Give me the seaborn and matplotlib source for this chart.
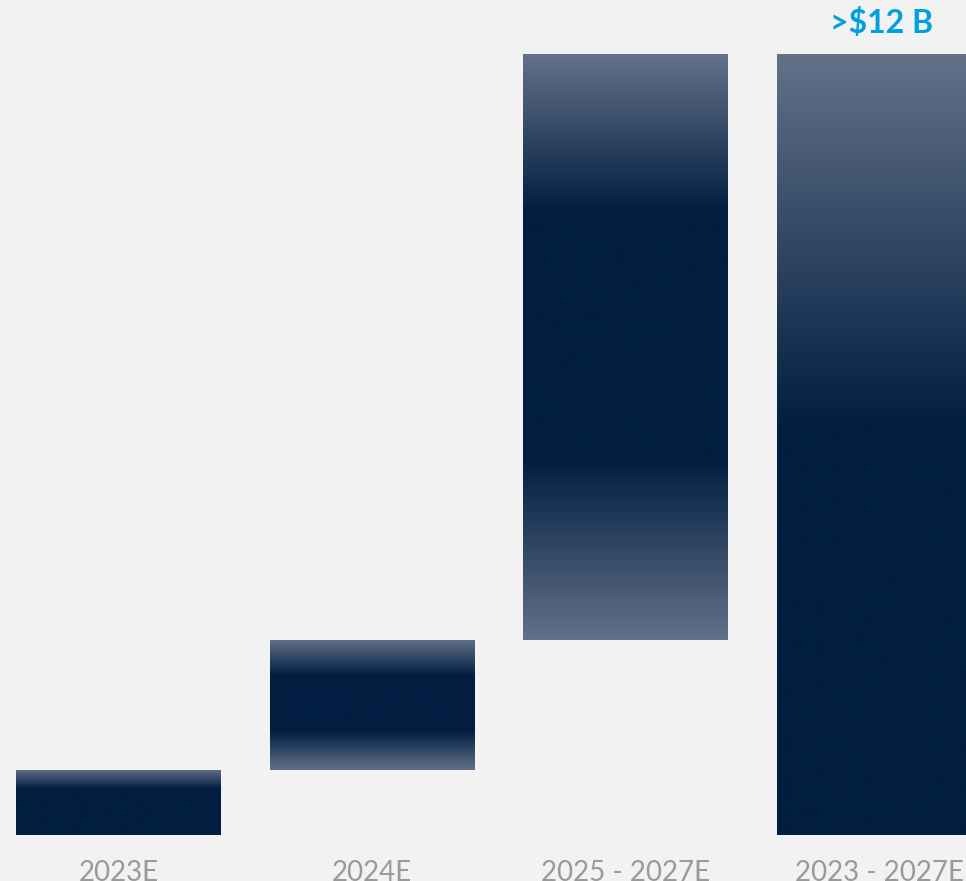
import numpy as np
import matplotlib.pyplot as plt
import seaborn as sns
from matplotlib.colors import LinearSegmentedColormap

categories = ['2023E', '2024E', '2025 - 2027E', '2023 - 2027E']
bottoms = [0, 1, 3, 0]
heights = [1, 2, 9, 12]
total_label = '>$12 B'

# where each bar's fill is fully dark (fraction of bar height, from the top)
fades = [(0.30, 1.0), (0.28, 0.70), (0.27, 0.69), (0.48, 1.0)]

bg = '#f2f2f2'
navy = '#011e41'
slate = '#637189'
cmap = LinearSegmentedColormap.from_list('bar', [slate, navy])

sns.set_theme(style='white', rc={'axes.facecolor': bg, 'figure.facecolor': bg})
plt.rcParams['font.family'] = ['Lato', 'DejaVu Sans']

fig = plt.figure(figsize=(9.66, 8.81), dpi=100)
ax = fig.add_axes([0, 46 / 881, 1, 835 / 881])

sns.barplot(x=categories, y=heights, bottom=bottoms, width=0.805, color=navy,
            saturation=1, linewidth=0, ax=ax)

# gradient fill, clipped to each bar
for patch, (a, b) in zip(ax.patches, fades):
    x, y = patch.get_x(), patch.get_y()
    w, h = patch.get_width(), patch.get_height()
    f = (np.arange(400) + 0.5) / 400
    v = np.ones_like(f)
    v[f < a] = f[f < a] / a
    if b < 1:
        v[f > b] = (1 - f[f > b]) / (1 - b)
    im = ax.imshow(v[:, None], cmap=cmap, vmin=0, vmax=1, aspect='auto',
                   extent=[x, x + w, y, y + h], origin='upper', zorder=3,
                   interpolation='bilinear')
    im.set_clip_path(patch)

ax.annotate(total_label, (3, heights[3]), xytext=(2, 22), textcoords='offset points',
            ha='center', va='center', fontsize=23, fontweight='bold', color='#00a0df')

ax.set_xlim(-0.4675, 3.343)
ax.set_ylim(0, 12.83)
ax.set_yticks([])
ax.set_xlabel('')
ax.tick_params(axis='x', length=0, pad=18, labelsize=20, labelcolor='#9a9a9a')
sns.despine(ax=ax, left=True, bottom=True)

plt.savefig('out.png', dpi=100, facecolor=bg)
